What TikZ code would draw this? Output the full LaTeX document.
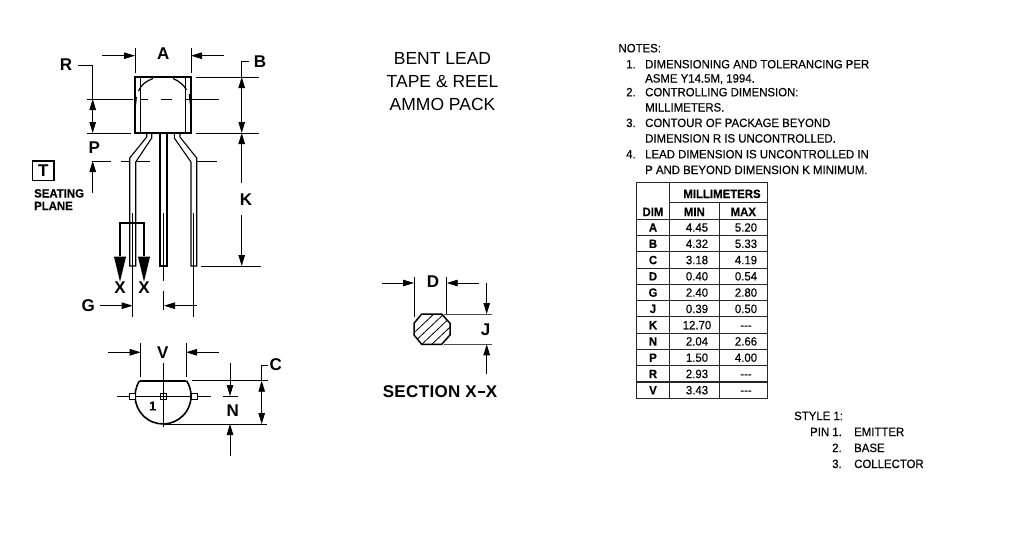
\documentclass[tikz,border=0pt]{standalone}
\usepackage{fontspec}
\setmainfont[FakeStretch=0.95,FakeBold=0.25]{Liberation Sans}
\newfontfamily\wideface{Liberation Sans}
\usetikzlibrary{arrows.meta}
\tikzset{
  dimtip/.tip={Triangle[length=11pt,width=6.5pt]},
  dimline/.style={line width=0.9pt,black},
  dimarrow/.style={dimline,-dimtip},
  dimboth/.style={dimline,dimtip-dimtip},
  outline/.style={line width=1.6pt,black},
  leadline/.style={line width=1.1pt,black},
  letter/.style={inner sep=0pt,font=\wideface\fontsize{17}{17}\selectfont\bfseries},
  notetext/.style={inner sep=0pt,anchor=base west,font=\fontsize{12}{12}\selectfont},
  titletext/.style={inner sep=0pt,font=\wideface\fontsize{17.5}{17.5}\selectfont},
  tablebold/.style={inner sep=0pt,anchor=base,font=\fontsize{12}{12}\selectfont\bfseries},
  tablenum/.style={inner sep=0pt,anchor=base,font=\fontsize{12}{12}\selectfont},
  seat/.style={inner sep=0pt,anchor=base west,font=\fontsize{12}{12}\selectfont\bfseries},
  gridline/.style={line width=1.1pt,black!85},
}
\begin{document}
\begin{tikzpicture}[x=1pt,y=-1pt]
\useasboundingbox (0,0) rectangle (1015,536);
\fill[white] (0,0) rectangle (1015,536);

% --- side view: package body
\draw[outline] (135,77) rectangle (191,133);
\draw[leadline] (140.7,77) -- (140.7,133);
\draw[leadline] (185.7,77) -- (185.7,133);
\draw[line width=1.2pt] (138.5,91) .. controls (141,85) and (146,81) .. (153,78.5);
\draw[line width=1.2pt] (158,77.5) -- (168,77.5);
\draw[line width=1.2pt] (173,78.5) .. controls (179,81) and (184,85) .. (186.5,90);
\draw[line width=1.2pt] (136.3,97) -- (135.5,105);
\draw[line width=1.2pt] (189.3,94) -- (190.5,105);

% leads
\draw[leadline] (146.7,133) -- (146.7,137) -- (129.7,158) -- (129.7,266) -- (135.7,266) -- (135.7,162) -- (151.7,138) -- (151.7,133);
\draw[leadline] (160,133) -- (160,266) -- (167,266) -- (167,133);
\draw[leadline] (174.3,133) -- (174.3,138) -- (191,162) -- (191,266) -- (196.7,266) -- (196.7,158) -- (180,137) -- (180,133);

% centre lines of leads
\draw[line width=0.7pt] (132.7,213) -- (132.7,317);
\draw[line width=0.7pt] (163.7,213) -- (163.7,281);
\draw[line width=0.7pt] (163.7,291) -- (163.7,310);
\draw[line width=0.7pt] (193.7,213) -- (193.7,317);

% dimension A
\node[letter] (lblA) at (163.3,54) {A};
\coordinate (aL) at (102.3,55.7); \coordinate (aLt) at (135,55.7);
\coordinate (aR) at (224,55.7); \coordinate (aRt) at (191,55.7);
\draw[dimarrow] (aL) -- (aLt);
\draw[dimarrow] (aR) -- (aRt);
\draw[dimline] (135,48) -- (135,73);
\draw[dimline] (191,48) -- (191,73);

% dimension R
\node[letter] (lblR) at (66,64.3) {R};
\draw[dimline] (78,65) -- (92.7,65) -- (92.7,99);
\draw[dimboth] (92.7,99) -- (92.7,133);
\draw[dimline] (87,99) -- (133,99);
\draw[dimline] (141,99) -- (148,99);
\draw[dimline] (161,99) -- (172,99);
\draw[dimline] (186,99) -- (219,99);
\draw[dimline] (87,133) -- (131,133);

% dimension P and seating plane
\node[letter] (lblP) at (94.3,147.7) {P};
\draw[dimarrow] (92.7,193) -- (92.7,161);
\draw[dimline] (91.7,161) -- (110.7,161);
\draw[dimline] (121,161) -- (130,161);
\draw[dimline] (136,161) -- (150,161);
\draw[dimline] (196.7,161) -- (216.7,161);
\draw[line width=1.1pt] (32.7,161) rectangle (54,180.7);
\node[letter] (lblT) at (43.3,171) {T};
\node[seat] (seat1) at (34,197.5) {SEATING};
\node[seat] (seat2) at (34,210) {PLANE};

% dimension B and K
\node[letter] (lblB) at (260,61.7) {B};
\draw[dimline] (249,61.7) -- (241.7,61.7) -- (241.7,77);
\draw[dimboth] (241.7,77) -- (241.7,133);
\draw[dimarrow] (241.7,183) -- (241.7,133);
\node[letter] (lblK) at (246,200) {K};
\draw[dimarrow] (241.7,215) -- (241.7,266);
\draw[dimline] (195.7,77) -- (258.7,77);
\draw[dimline] (195.7,133) -- (258.7,133);
\draw[dimline] (201,266) -- (260.7,266);

% section arrows X
\draw[line width=1.7pt] (120,256) -- (120,222.7) -- (144,222.7) -- (144,256);
\fill (114,256.7) -- (126,256.7) -- (120,281.7) -- cycle;
\fill (138,256.7) -- (150,256.7) -- (144,281.7) -- cycle;
\node[letter] (lblX1) at (120,288) {X};
\node[letter] (lblX2) at (144,288) {X};

% dimension G
\node[letter] (lblG) at (88.3,305.7) {G};
\draw[dimarrow] (100,305.7) -- (132.7,305.7);
\draw[dimarrow] (196.7,305.7) -- (164,305.7);

% --- bottom view
\node[letter] (lblV) at (162.7,352.7) {V};
\draw[dimarrow] (108.3,352.3) -- (140.7,352.3);
\draw[dimarrow] (218.7,352.3) -- (186,352.3);
\draw[dimline] (140.7,343) -- (140.7,377);
\draw[dimline] (186,343) -- (186,377);
\draw[dimline] (163.7,363) -- (163.7,427);
\draw[line width=0.7pt] (117,396) -- (210.7,396);
\draw[outline] (139.6,380.7) -- (186.4,380.7);
\draw[line width=1.6pt] (139.6,380.7) arc[start angle=213,end angle=-33,radius=28];
\foreach \px in {132.3,163.7,194.7}{
  \draw[line width=1pt,fill=white] (\px-3,393) rectangle (\px+3,399);
}
\draw[line width=0.7pt] (160.7,396) -- (166.7,396) (163.7,393) -- (163.7,399);
\node[inner sep=0pt,font=\fontsize{13}{13}\selectfont\bfseries] (lbl1) at (152.7,406) {1};

% dimension C and N
\node[letter] (lblC) at (275.7,364.3) {C};
\draw[dimline] (268,365) -- (261.7,365) -- (261.7,381);
\draw[dimboth] (261.7,380.7) -- (261.7,424);
\draw[dimline] (191.7,380.7) -- (268,380.7);
\draw[dimline] (163.7,424) -- (266.7,424);
\draw[dimarrow] (230,363) -- (230,396);
\draw[dimline] (222.7,396) -- (237.7,396);
\node[letter] (lblN) at (232.7,411) {N};
\draw[dimarrow] (230,456) -- (230,424);

% --- titles
\node[titletext] (t1) at (442.5,58) {BENT LEAD};
\node[titletext] (t2) at (442.5,82) {TAPE \& REEL};
\node[titletext] (t3) at (442.5,104) {AMMO PACK};

% --- section X-X
\node[letter] (lblD) at (433,281.7) {D};
\draw[dimarrow] (381.7,283) -- (414,283);
\draw[dimarrow] (479,283) -- (446.7,283);
\draw[dimline] (414,276.7) -- (414,316.7);
\draw[dimline] (446.7,276.7) -- (446.7,315);
\draw[dimline,black!70] (444,314) -- (492.3,314);
\draw[dimline,black!70] (444,344.3) -- (492.3,344.3);
\draw[dimarrow] (486.7,283) -- (486.7,314);
\draw[dimarrow] (486.7,374) -- (486.7,344.3);
\node[letter] (lblJ) at (485.7,330) {J};
\begin{scope}
  \clip (421.7,314) -- (441.7,314) -- (450,323.3) -- (450,335) -- (441.7,344.3) -- (421.7,344.3) -- (414,335) -- (414,323.3) -- cycle;
  \foreach \o in {-14,-4,6,16,26}{
    \draw[line width=0.8pt] (414+\o,346) -- (450+\o,312);
  }
\end{scope}
\draw[line width=1.5pt] (421.7,314) -- (441.7,314) -- (450,323.3) -- (450,335) -- (441.7,344.3) -- (421.7,344.3) -- (414,335) -- (414,323.3) -- cycle;
\node[letter] (secx) at (440,391.7) {\addfontfeatures{LetterSpace=2}SECTION X\kern1pt\rule[5pt]{7pt}{1.8pt}\kern1pt X};

% --- notes
\node[notetext] (n0) at (618.3,52.3) {NOTES:};
\node[notetext] (n1a) at (626,68.3) {1.};
\node[notetext] (n1) at (645,68.3) {DIMENSIONING AND TOLERANCING PER};
\node[notetext] (n1b) at (645,82.5) {ASME Y14.5M, 1994.};
\node[notetext] (n2a) at (626,96.3) {2.};
\node[notetext] (n2) at (645,96.3) {CONTROLLING DIMENSION:};
\node[notetext] (n2b) at (645,111.5) {MILLIMETERS.};
\node[notetext] (n3a) at (626,127) {3.};
\node[notetext] (n3) at (645,127) {CONTOUR OF PACKAGE BEYOND};
\node[notetext] (n3b) at (645,142.5) {DIMENSION R IS UNCONTROLLED.};
\node[notetext] (n4a) at (626,158.3) {4.};
\node[notetext] (n4) at (645,158.3) {LEAD DIMENSION IS UNCONTROLLED IN};
\node[notetext] (n4b) at (645,174) {P AND BEYOND DIMENSION K MINIMUM.};

% --- table
\draw[gridline] (636.7,182.3) rectangle (767.3,398.3);
\draw[gridline] (669.3,182.3) -- (669.3,398.3);
\draw[gridline] (719.3,202.3) -- (719.3,398.3);
\draw[gridline] (669.3,202.3) -- (767.3,202.3);
\draw[gridline] (636.7,219.3) -- (767.3,219.3);
\foreach \r in {1,...,10}{
  \draw[gridline] (636.7,219.3+16.27*\r) -- (767.3,219.3+16.27*\r);
}
\node[tablebold] (hmm) at (722,198) {MILLIMETERS};
\node[tablebold] (hdim) at (653,216) {DIM};
\node[tablebold] (hmin) at (694.3,216) {MIN};
\node[tablebold] (hmax) at (743.3,216) {MAX};
\foreach \d/\a/\b [count=\i] in {A/4.45/5.20,B/4.32/5.33,C/3.18/4.19,D/0.40/0.54,G/2.40/2.80,J/0.39/0.50,K/12.70/{-{}-{}-},N/2.04/2.66,P/1.50/4.00,R/2.93/{-{}-{}-},V/3.43/{-{}-{}-}}{
  \pgfmathsetmacro{\ry}{219.3+16.27*(\i-0.5)+4.2}
  \node[tablebold] (dim\i) at (653,\ry) {\d};
  \node[tablenum] (min\i) at (697,\ry) {\a};
  \node[tablenum] (max\i) at (746,\ry) {\b};
}

% --- style
\node[notetext] (s0) at (794,420) {STYLE 1:};
\node[notetext] (s1) at (810,436) {PIN 1.};
\node[notetext] (s1b) at (854,436) {EMITTER};
\node[notetext] (s2) at (832,452) {2.};
\node[notetext] (s2b) at (854,452) {BASE};
\node[notetext] (s3) at (832,468) {3.};
\node[notetext] (s3b) at (854,468) {COLLECTOR};
\end{tikzpicture}
\end{document}
